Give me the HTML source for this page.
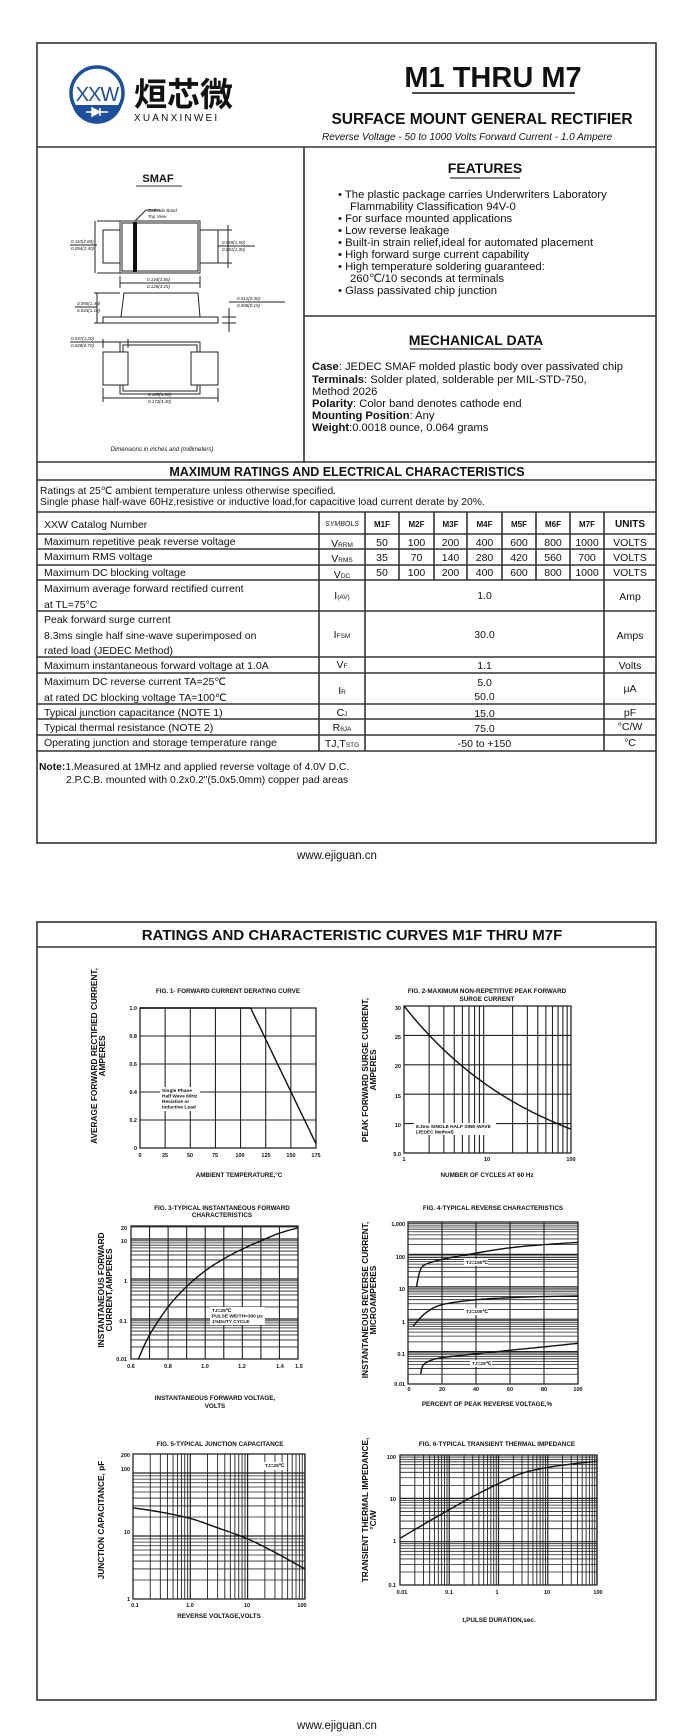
<!DOCTYPE html>
<html><head><meta charset="utf-8"><style>
html,body{margin:0;padding:0;background:#fff}
svg{display:block}
text{font-family:"Liberation Sans",Arial,sans-serif;fill:#111}
.b{font-weight:bold}
</style></head><body>
<svg id="s" width="694" height="1736" viewBox="0 0 694 1736" xmlns="http://www.w3.org/2000/svg">
<rect width="694" height="1736" fill="#fff"/>
<g fill="none" stroke="#333" stroke-width="1.6">
<rect x="37" y="43" width="619" height="800"/>
<line x1="37" y1="147" x2="656" y2="147"/>
<line x1="304" y1="147" x2="304" y2="462"/>
<line x1="304" y1="316" x2="656" y2="316"/>
<line x1="37" y1="462" x2="656" y2="462"/>
<line x1="37" y1="480" x2="656" y2="480"/>
<line x1="37" y1="512" x2="656" y2="512"/>
<line x1="37" y1="534" x2="656" y2="534"/>
<line x1="37" y1="549" x2="656" y2="549"/>
<line x1="37" y1="565" x2="656" y2="565"/>
<line x1="37" y1="580" x2="656" y2="580"/>
<line x1="37" y1="611" x2="656" y2="611"/>
<line x1="37" y1="657" x2="656" y2="657"/>
<line x1="37" y1="673" x2="656" y2="673"/>
<line x1="37" y1="704" x2="656" y2="704"/>
<line x1="37" y1="719" x2="656" y2="719"/>
<line x1="37" y1="735" x2="656" y2="735"/>
<line x1="37" y1="751" x2="656" y2="751"/>
<line x1="319" y1="512" x2="319" y2="751"/>
<line x1="365" y1="512" x2="365" y2="751"/>
<line x1="604" y1="512" x2="604" y2="751"/>
<line x1="399" y1="512" x2="399" y2="580"/>
<line x1="434" y1="512" x2="434" y2="580"/>
<line x1="467" y1="512" x2="467" y2="580"/>
<line x1="502" y1="512" x2="502" y2="580"/>
<line x1="536" y1="512" x2="536" y2="580"/>
<line x1="570" y1="512" x2="570" y2="580"/>
<rect x="37" y="922" width="619" height="778"/>
<line x1="37" y1="947" x2="656" y2="947"/>
</g>
<!-- logo -->
<circle cx="97" cy="93" r="26" fill="none" stroke="#1d4f9c" stroke-width="3.5"/>
<path d="M72 105 A26 26 0 0 0 122 105 Z" fill="#1d4f9c"/>
<path d="M86 112 L108 112 M92 108 L92 116 L100 112 Z M100 108 L100 116" stroke="#fff" stroke-width="1.5" fill="#fff"/>
<text x="97" y="101" text-anchor="middle" font-size="20" fill="#1d4f9c" style="fill:#1d4f9c;letter-spacing:-1px">XXW</text>
<text x="134" y="106" font-size="33" class="b" style="font-family:'Noto Sans CJK SC','WenQuanYi Zen Hei',sans-serif">烜芯微</text>
<text x="134" y="121" font-size="10" style="letter-spacing:2.2px">XUANXINWEI</text>
<text x="493" y="87" text-anchor="middle" font-size="29" class="b">M1 THRU M7</text>
<line x1="412" y1="93" x2="575" y2="93" stroke="#111" stroke-width="1.6"/>
<text x="482" y="124" text-anchor="middle" font-size="15.5" class="b">SURFACE MOUNT GENERAL RECTIFIER</text>
<text x="322" y="140" font-size="10" font-style="italic">Reverse Voltage - 50 to 1000 Volts    Forward Current -  1.0 Ampere</text>
<!-- features -->
<text x="485" y="173" text-anchor="middle" font-size="14" class="b">FEATURES</text>
<line x1="450" y1="178" x2="520" y2="178" stroke="#333" stroke-width="1.2"/>
<g font-size="11.3">
<text x="338" y="198">• The plastic package carries Underwriters Laboratory</text>
<text x="350" y="210">Flammability Classification 94V-0</text>
<text x="338" y="222">• For surface mounted applications</text>
<text x="338" y="234">• Low reverse leakage</text>
<text x="338" y="246">• Built-in strain relief,ideal for automated placement</text>
<text x="338" y="258">• High forward surge current capability</text>
<text x="338" y="270">• High temperature soldering guaranteed:</text>
<text x="350" y="282">260℃/10 seconds at terminals</text>
<text x="338" y="294">• Glass passivated chip junction</text>
</g>
<text x="476" y="345" text-anchor="middle" font-size="14" class="b">MECHANICAL DATA</text>
<line x1="410" y1="349" x2="541" y2="349" stroke="#333" stroke-width="1.2"/>
<g font-size="11.2">
<text x="312" y="370"><tspan class="b">Case</tspan>: JEDEC SMAF molded plastic body over passivated chip</text>
<text x="312" y="383"><tspan class="b">Terminals</tspan>: Solder plated, solderable per MIL-STD-750,</text>
<text x="312" y="395">Method 2026</text>
<text x="312" y="407"><tspan class="b">Polarity</tspan>: Color band denotes cathode end</text>
<text x="312" y="419"><tspan class="b">Mounting Position</tspan>: Any</text>
<text x="312" y="431"><tspan class="b">Weight</tspan>:0.0018 ounce, 0.064 grams</text>
</g>
<!-- package -->
<text x="158" y="182" text-anchor="middle" font-size="11" class="b">SMAF</text>
<line x1="136" y1="186" x2="182" y2="186" stroke="#333" stroke-width="1"/>
<g fill="none" stroke="#222" stroke-width="1">
<rect x="120" y="221" width="80" height="52"/><rect x="122" y="223" width="76" height="48"/>
<rect x="103" y="230" width="17" height="33"/><rect x="200" y="230" width="18" height="33"/>
<line x1="97" y1="221" x2="120" y2="221"/><line x1="97" y1="273" x2="120" y2="273"/><line x1="95" y1="221" x2="95" y2="273"/>
<line x1="70" y1="245" x2="97" y2="245"/>
<line x1="218" y1="230" x2="232" y2="230"/><line x1="218" y1="263" x2="232" y2="263"/><line x1="228" y1="225" x2="228" y2="268"/><line x1="218" y1="246" x2="255" y2="246"/>
<line x1="120" y1="276" x2="120" y2="288"/><line x1="200" y1="276" x2="200" y2="288"/><line x1="120" y1="283" x2="200" y2="283"/>
<line x1="135" y1="221" x2="146" y2="210"/><line x1="146" y1="210" x2="160" y2="210"/>
<path d="M121 317 L124 293 L198 293 L200 317"/><rect x="103" y="317" width="115" height="6"/>
<line x1="94" y1="293" x2="120" y2="293"/><line x1="94" y1="323" x2="103" y2="323"/><line x1="97" y1="293" x2="97" y2="323"/><line x1="75" y1="307" x2="97" y2="307"/>
<line x1="229" y1="308" x2="229" y2="332"/><line x1="222" y1="317" x2="236" y2="317"/><line x1="222" y1="323" x2="236" y2="323"/><line x1="229" y1="302" x2="285" y2="302"/>
<rect x="120" y="342" width="80" height="52"/><rect x="123" y="345" width="74" height="46"/>
<rect x="103" y="352" width="25" height="33" fill="#fff"/><rect x="191" y="352" width="27" height="33" fill="#fff"/>
<line x1="103" y1="339" x2="103" y2="348"/><line x1="128" y1="339" x2="128" y2="348"/><line x1="70" y1="342" x2="128" y2="342"/>
<line x1="103" y1="388" x2="103" y2="402"/><line x1="218" y1="388" x2="218" y2="402"/><line x1="103" y1="398" x2="218" y2="398"/>
</g>
<rect x="133" y="222" width="4" height="50" fill="#111"/>
<g font-size="4.5" font-style="italic">
<text x="148" y="212">Cathode Band</text><text x="148" y="218">Top View</text>
<text x="71" y="243">0.110(2.80)</text><text x="71" y="250">0.094(2.40)</text>
<text x="222" y="244">0.059(1.50)</text><text x="222" y="251">0.051(1.30)</text>
<text x="147" y="281">0.144(3.65)</text><text x="147" y="288">0.128(3.25)</text>
<text x="77" y="305">0.055(1.40)</text><text x="77" y="312">0.043(1.10)</text>
<text x="237" y="300">0.012(0.30)</text><text x="237" y="307">0.006(0.15)</text>
<text x="71" y="340">0.047(1.20)</text><text x="71" y="347">0.028(0.70)</text>
<text x="148" y="396">0.189(4.80)</text><text x="148" y="403">0.173(4.40)</text>
</g>
<text x="162" y="451" text-anchor="middle" font-size="6" font-style="italic">Dimensions in inches and (millimeters)</text>
<!-- ratings -->
<text x="347" y="476" text-anchor="middle" font-size="12.5" class="b">MAXIMUM RATINGS AND ELECTRICAL CHARACTERISTICS</text>
<text x="40" y="494" font-size="10.3">Ratings at 25℃ ambient temperature unless otherwise specified.</text>
<text x="40" y="505" font-size="10.3">Single phase half-wave 60Hz,resistive or inductive load,for capacitive load current derate by 20%.</text>
<g font-size="10.5">
<text x="44" y="528">XXW Catalog  Number</text>
<text x="342" y="526" text-anchor="middle" font-size="7" font-style="italic">SYMBOLS</text>
<g class="b" font-size="8" text-anchor="middle"><text x="382" y="527">M1F</text><text x="416.5" y="527">M2F</text><text x="450.5" y="527">M3F</text><text x="484.5" y="527">M4F</text><text x="519" y="527">M5F</text><text x="553" y="527">M6F</text><text x="587" y="527">M7F</text><text x="630" y="527" font-size="10">UNITS</text></g>
<text x="44" y="545">Maximum repetitive peak reverse voltage</text>
<text x="44" y="560">Maximum RMS voltage</text>
<text x="44" y="576">Maximum DC blocking voltage</text>
<text x="44" y="592">Maximum average forward rectified current</text>
<text x="44" y="608">at TL=75°C</text>
<text x="44" y="623">Peak forward surge current</text>
<text x="44" y="639">8.3ms single half sine-wave superimposed on</text>
<text x="44" y="654">rated load (JEDEC Method)</text>
<text x="44" y="669">Maximum instantaneous forward voltage at 1.0A</text>
<text x="44" y="685">Maximum DC reverse current      TA=25℃</text>
<text x="44" y="701">at rated DC blocking voltage       TA=100℃</text>
<text x="44" y="716">Typical junction capacitance (NOTE 1)</text>
<text x="44" y="731">Typical thermal resistance (NOTE 2)</text>
<text x="44" y="746">Operating junction and storage temperature range</text>
<g text-anchor="middle">
<text x="342" y="547">V<tspan font-size="6.5">RRM</tspan></text>
<text x="342" y="562">V<tspan font-size="6.5">RMS</tspan></text>
<text x="342" y="578">V<tspan font-size="6.5">DC</tspan></text>
<text x="342" y="599">I<tspan font-size="6.5">(AV)</tspan></text>
<text x="342" y="638">I<tspan font-size="6.5">FSM</tspan></text>
<text x="342" y="668">V<tspan font-size="6.5">F</tspan></text>
<text x="342" y="694">I<tspan font-size="6.5">R</tspan></text>
<text x="342" y="716">C<tspan font-size="6.5">J</tspan></text>
<text x="342" y="731">R<tspan font-size="6.5">θJA</tspan></text>
<text x="342" y="747">TJ,T<tspan font-size="6.5">STG</tspan></text>
<text x="382" y="546">50</text><text x="416.5" y="546">100</text><text x="450.5" y="546">200</text><text x="484.5" y="546">400</text><text x="519" y="546">600</text><text x="553" y="546">800</text><text x="587" y="546">1000</text><text x="630" y="546">VOLTS</text>
<text x="382" y="561">35</text><text x="416.5" y="561">70</text><text x="450.5" y="561">140</text><text x="484.5" y="561">280</text><text x="519" y="561">420</text><text x="553" y="561">560</text><text x="587" y="561">700</text><text x="630" y="561">VOLTS</text>
<text x="382" y="576">50</text><text x="416.5" y="576">100</text><text x="450.5" y="576">200</text><text x="484.5" y="576">400</text><text x="519" y="576">600</text><text x="553" y="576">800</text><text x="587" y="576">1000</text><text x="630" y="576">VOLTS</text>
<text x="484.5" y="599">1.0</text><text x="630" y="600">Amp</text>
<text x="484.5" y="638">30.0</text><text x="630" y="639">Amps</text>
<text x="484.5" y="669">1.1</text><text x="630" y="669">Volts</text>
<text x="484.5" y="686">5.0</text><text x="484.5" y="700">50.0</text><text x="630" y="692">μA</text>
<text x="484.5" y="717">15.0</text><text x="630" y="716">pF</text>
<text x="484.5" y="732">75.0</text><text x="630" y="730">°C/W</text>
<text x="484.5" y="747">-50 to +150</text><text x="630" y="746">°C</text>
</g></g>
<text x="39" y="770" font-size="10.3"><tspan class="b">Note:</tspan>1.Measured at 1MHz and applied reverse voltage of 4.0V D.C.</text>
<text x="66" y="783" font-size="10.3">2.P.C.B. mounted with 0.2x0.2"(5.0x5.0mm) copper pad areas</text>
<text x="337" y="859" text-anchor="middle" font-size="11.5">www.ejiguan.cn</text>
<text x="337" y="1729" text-anchor="middle" font-size="11.5">www.ejiguan.cn</text>
<text x="352" y="940" text-anchor="middle" font-size="15" class="b">RATINGS AND CHARACTERISTIC CURVES M1F THRU M7F</text>
<g id="charts" fill="none" stroke="#222"></g>
<g class="b" font-size="6.3" text-anchor="middle">
<text x="228" y="993">FIG. 1- FORWARD CURRENT DERATING CURVE</text>
<text x="487" y="993">FIG. 2-MAXIMUM NON-REPETITIVE PEAK FORWARD</text><text x="487" y="1001">SURGE CURRENT</text>
<text x="222" y="1210">FIG. 3-TYPICAL INSTANTANEOUS FORWARD</text><text x="222" y="1217">CHARACTERISTICS</text>
<text x="493" y="1210">FIG. 4-TYPICAL REVERSE CHARACTERISTICS</text>
<text x="220" y="1446">FIG. 5-TYPICAL JUNCTION CAPACITANCE</text>
<text x="497" y="1446">FIG. 6-TYPICAL TRANSIENT THERMAL IMPEDANCE</text>
<text x="239" y="1177">AMBIENT TEMPERATURE,°C</text>
<text x="487" y="1177">NUMBER OF CYCLES AT 60 Hz</text>
<text x="215" y="1400">INSTANTANEOUS FORWARD VOLTAGE,</text><text x="215" y="1408">VOLTS</text>
<text x="487" y="1406">PERCENT OF PEAK REVERSE VOLTAGE,%</text>
<text x="219" y="1618">REVERSE VOLTAGE,VOLTS</text>
<text x="499" y="1622">t,PULSE DURATION,sec.</text>
</g>
<g class="b" font-size="8.3" text-anchor="middle">
<text transform="translate(97,1056) rotate(-90)">AVERAGE  FORWARD RECTIFIED CURRENT,</text>
<text transform="translate(105,1056) rotate(-90)">AMPERES</text>
<text transform="translate(368,1070) rotate(-90)">PEAK    FORWARD SURGE CURRENT,</text>
<text transform="translate(376,1070) rotate(-90)">AMPERES</text>
<text transform="translate(104,1290) rotate(-90)">INSTANTANEOUS FORWARD</text>
<text transform="translate(112,1290) rotate(-90)">CURRENT,AMPERES</text>
<text transform="translate(368,1300) rotate(-90)">INSTANTANEOUS REVERSE CURRENT,</text>
<text transform="translate(376,1300) rotate(-90)">MICROAMPERES</text>
<text transform="translate(104,1520) rotate(-90)">JUNCTION CAPACITANCE, pF</text>
<text transform="translate(368,1510) rotate(-90)">TRANSIENT THERMAL IMPEDANCE,</text>
<text transform="translate(376,1520) rotate(-90)">°C/W</text>
</g>
<g class="b" font-size="5.5">
<g text-anchor="end"><text x="137" y="1010">1.0</text><text x="137" y="1038">0.8</text><text x="137" y="1066">0.6</text><text x="137" y="1094">0.4</text><text x="137" y="1122">0.2</text><text x="137" y="1150">0</text></g>
<g text-anchor="middle"><text x="140" y="1157">0</text><text x="165" y="1157">25</text><text x="190" y="1157">50</text><text x="215" y="1157">75</text><text x="240" y="1157">100</text><text x="266" y="1157">125</text><text x="291" y="1157">150</text><text x="316" y="1157">175</text></g>
<g text-anchor="end"><text x="401" y="1010">30</text><text x="401" y="1039">25</text><text x="401" y="1068">20</text><text x="401" y="1098">15</text><text x="401" y="1127">10</text><text x="401" y="1156">5.0</text></g>
<g text-anchor="middle"><text x="404" y="1161">1</text><text x="487" y="1161">10</text><text x="571" y="1161">100</text></g>
<g text-anchor="end"><text x="127" y="1230">20</text><text x="127" y="1243">10</text><text x="127" y="1283">1</text><text x="127" y="1323">0.1</text><text x="127" y="1361">0.01</text></g>
<g text-anchor="middle"><text x="131" y="1368">0.6</text><text x="168" y="1368">0.8</text><text x="205" y="1368">1.0</text><text x="242" y="1368">1.2</text><text x="280" y="1368">1.4</text><text x="299" y="1368">1.5</text></g>
<g text-anchor="end"><text x="405" y="1226">1,000</text><text x="405" y="1259">100</text><text x="405" y="1291">10</text><text x="405" y="1324">1</text><text x="405" y="1356">0.1</text><text x="405" y="1386">0.01</text></g>
<g text-anchor="middle"><text x="409" y="1391">0</text><text x="442" y="1391">20</text><text x="476" y="1391">40</text><text x="510" y="1391">60</text><text x="544" y="1391">80</text><text x="578" y="1391">100</text></g>
<g text-anchor="end"><text x="130" y="1457">200</text><text x="130" y="1471">100</text><text x="130" y="1534">10</text><text x="130" y="1601">1</text></g>
<g text-anchor="middle"><text x="135" y="1607">0.1</text><text x="190" y="1607">1.0</text><text x="247" y="1607">10</text><text x="302" y="1607">100</text></g>
<g text-anchor="end"><text x="396" y="1459">100</text><text x="396" y="1501">10</text><text x="396" y="1543">1</text><text x="396" y="1587">0.1</text></g>
<g text-anchor="middle"><text x="402" y="1594">0.01</text><text x="449" y="1594">0.1</text><text x="497" y="1594">1</text><text x="547" y="1594">10</text><text x="598" y="1594">100</text></g>
</g>
<g id="labels" font-size="4.8" class="b"></g>
</svg>
<script>
var NS="http://www.w3.org/2000/svg",G=document.getElementById('charts'),L=document.getElementById('labels');
function ln(a,b,c,d,w){var e=document.createElementNS(NS,'line');e.setAttribute('x1',a);e.setAttribute('y1',b);e.setAttribute('x2',c);e.setAttribute('y2',d);e.setAttribute('stroke-width',w||0.9);G.appendChild(e);}
function rect(x0,y0,x1,y1){var e=document.createElementNS(NS,'rect');e.setAttribute('x',x0);e.setAttribute('y',y0);e.setAttribute('width',x1-x0);e.setAttribute('height',y1-y0);e.setAttribute('stroke-width',1.3);G.appendChild(e);}
function poly(pts,fx,fy){var d='';var n=60;
 // monotone-ish interpolation via Catmull-Rom on transformed points
 var P=pts.map(function(p){return [fx(p[0]),fy(p[1])];});
 for(var i=0;i<P.length-1;i++){var p0=P[Math.max(0,i-1)],p1=P[i],p2=P[i+1],p3=P[Math.min(P.length-1,i+2)];
  for(var t=0;t<=1;t+=0.1){var t2=t*t,t3=t2*t;
   var x=0.5*((2*p1[0])+(-p0[0]+p2[0])*t+(2*p0[0]-5*p1[0]+4*p2[0]-p3[0])*t2+(-p0[0]+3*p1[0]-3*p2[0]+p3[0])*t3);
   var y=0.5*((2*p1[1])+(-p0[1]+p2[1])*t+(2*p0[1]-5*p1[1]+4*p2[1]-p3[1])*t2+(-p0[1]+3*p1[1]-3*p2[1]+p3[1])*t3);
   d+=(d?'L':'M')+x.toFixed(1)+' '+y.toFixed(1);}}
 var e=document.createElementNS(NS,'path');e.setAttribute('d',d);e.setAttribute('stroke-width',1.4);e.setAttribute('stroke','#111');G.appendChild(e);}
function lab(x,y,lines,w,h){var r=document.createElementNS(NS,'rect');r.setAttribute('x',x-2);r.setAttribute('y',y-5);r.setAttribute('width',w);r.setAttribute('height',h);r.setAttribute('fill','#fff');L.appendChild(r);
 lines.forEach(function(s,i){var t=document.createElementNS(NS,'text');t.setAttribute('x',x);t.setAttribute('y',y+i*5.5);t.textContent=s;L.appendChild(t);});}
function lg(v){return Math.log(v)/Math.LN10;}
// Fig1
(function(){var X=function(v){return 140+v/175*176},Y=function(v){return 1148-v*140};
for(var i=1;i<7;i++)ln(X(i*25),1008,X(i*25),1148,1.1);for(var j=1;j<5;j++)ln(140,Y(j*0.2),316,Y(j*0.2),1.1);rect(140,1008,316,1148);
poly([[0,1],[110,1]],X,Y);poly([[110,1],[175,0.03]],X,Y);lab(162,1092,['Single Phase','Half Wave 60Hz','Resistive or','Inductive Load'],40,24);})();
// Fig2
(function(){var X=function(v){return 404+lg(v)/2*167},Y=function(v){return 1153-(v-5)/25*147};
for(var d=1;d<=10;d*=10)for(var k=2;k<=9;k++)ln(X(k*d),1006,X(k*d),1153,1.1);[10,15,20,25].forEach(function(v){ln(404,Y(v),571,Y(v),1.1)});rect(404,1006,571,1153);
var p=[];for(var n=1;n<=100;n*=1.35)p.push([n,30*Math.pow(n,-0.26)]);p.push([100,30*Math.pow(100,-0.26)]);poly(p,X,Y);
lab(416,1128,['8.3ms SINGLE HALF SINE-WAVE','(JEDEC Method)'],82,12);})();
// Fig3
(function(){var X=function(v){return 131+(v-0.6)/0.9*167},Y=function(v){return 1359-(lg(v)+2)*40};
for(var i=1;i<9;i++)ln(X(0.6+i*0.1),1226,X(0.6+i*0.1),1359,1.1);
for(var d=0.01;d<=10;d*=10)for(var k=1;k<=9;k++){var v=k*d;if(v>20||v<=0.01)continue;ln(131,Y(v),298,Y(v),k==1?1.2:0.8);}
rect(131,1226,298,1359);
poly([[0.64,0.01],[0.7,0.04],[0.8,0.2],[0.9,0.65],[1.0,1.6],[1.1,3.2],[1.2,5.6],[1.3,9],[1.4,14],[1.5,19]],X,Y);
lab(212,1312,['TJ=25℃','PULSE WIDTH=300 μs','1%DUTY CYCLE'],55,18);})();
// Fig4
(function(){var X=function(v){return 408+v/100*170},Y=function(v){return 1384-(lg(v)+2)*32.4};
for(var i=1;i<5;i++)ln(X(i*20),1222,X(i*20),1384,1.1);
for(var d=0.01;d<1000;d*=10)for(var k=1;k<=9;k++){var v=k*d;if(v<=0.01)continue;ln(408,Y(v),578,Y(v),k==1?1.2:0.8);}
rect(408,1222,578,1384);
poly([[5,10],[7,30],[10,48],[20,70],[40,110],[60,160],[80,200],[100,235]],X,Y);
poly([[3,0.6],[10,1.5],[20,2.8],[40,4],[60,4.6],[80,5],[100,5.2]],X,Y);
poly([[7.5,0.02],[8.5,0.035],[12,0.05],[20,0.065],[40,0.085],[60,0.11],[80,0.14],[100,0.18]],X,Y);
lab(466,1264,['TJ=150℃'],24,7);lab(466,1313,['TJ=100℃'],24,7);lab(472,1365,['TJ=25℃'],22,7);})();
// Fig5
(function(){var X=function(v){return 133+(lg(v)+1)*57.3},Y=function(v){return 1599-lg(v)*63};
for(var d=0.1;d<100;d*=10)for(var k=2;k<=10;k++)ln(X(k*d),1454,X(k*d),1599,k==10?1.2:0.9);
for(var d2=1;d2<=100;d2*=10)for(var k2=1;k2<=9;k2++){var v=k2*d2;if(v>200||v<=1)continue;ln(133,Y(v),305,Y(v),k2==1?1.2:0.8);}
rect(133,1454,305,1599);
poly([[0.1,28],[0.3,24],[1,19],[3,13.5],[10,9],[30,5.5],[100,3]],X,Y);
lab(265,1467,['TJ=25℃'],22,8);})();
// Fig6
(function(){var X=function(v){return 400+(lg(v)+2)*49.25},Y=function(v){return 1585-(lg(v)+1)*43.3};
for(var d=0.01;d<100;d*=10)for(var k=2;k<=10;k++)ln(X(k*d),1455,X(k*d),1585,k==10?1.2:0.9);
for(var d2=0.1;d2<100;d2*=10)for(var k2=1;k2<=9;k2++){var v=k2*d2;if(v<=0.1)continue;ln(400,Y(v),597,Y(v),k2==1?1.2:0.8);}
rect(400,1455,597,1585);
poly([[0.01,1.2],[0.03,2.5],[0.1,5.5],[0.3,11],[1,22],[3,38],[10,52],[30,62],[100,72]],X,Y);})();
</script>
</body></html>
